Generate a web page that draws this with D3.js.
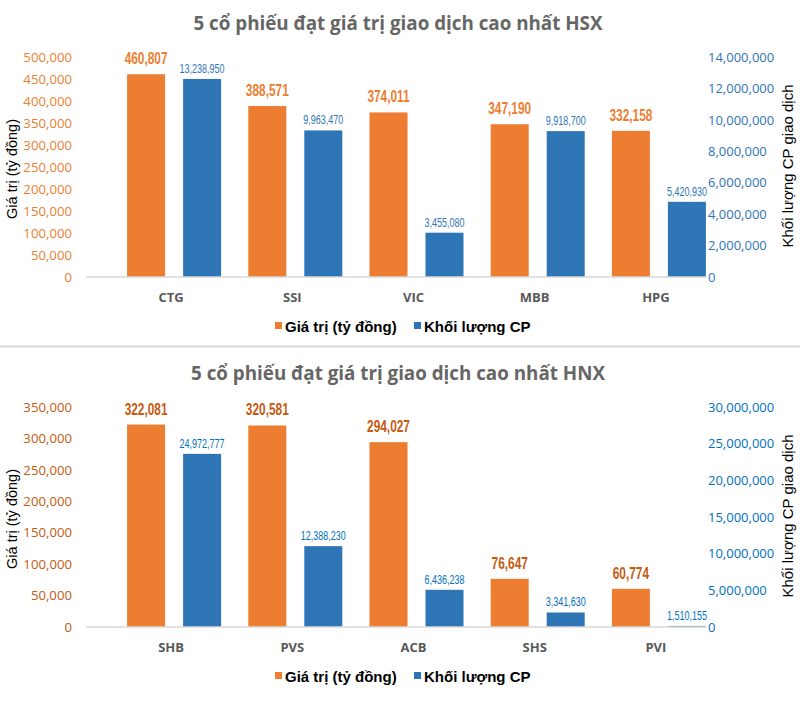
<!DOCTYPE html>
<html>
<head>
<meta charset="utf-8">
<script src="https://cdn.jsdelivr.net/npm/d3@7"></script>
<style>
  html, body { margin: 0; padding: 0; background: #fff; }
  svg { display: block; }
</style>
</head>
<body>
<svg id="chart" width="800" height="724"></svg>
<script>
// ---------- DATA ----------
const hsxTitle = "5 cổ phiếu đạt giá trị giao dịch cao nhất HSX";
const hsxStocks = ["CTG", "SSI", "VIC", "MBB", "HPG"];
const hsxValue = [460807, 388571, 374011, 347190, 332158];
const hsxVolume = [13238950, 9963470, 3455080, 9918700, 5420930];
const hsxLeftTicks = [0, 50000, 100000, 150000, 200000, 250000, 300000, 350000, 400000, 450000, 500000];
const hsxRightTicks = [0, 2000000, 4000000, 6000000, 8000000, 10000000, 12000000, 14000000];

const hnxTitle = "5 cổ phiếu đạt giá trị giao dịch cao nhất HNX";
const hnxStocks = ["SHB", "PVS", "ACB", "SHS", "PVI"];
const hnxValue = [322081, 320581, 294027, 76647, 60774];
const hnxVolume = [24972777, 12388230, 6436238, 3341630, 1510155];
const hnxLeftTicks = [0, 50000, 100000, 150000, 200000, 250000, 300000, 350000];
const hnxRightTicks = [0, 5000000, 10000000, 15000000, 20000000, 25000000, 30000000];

const seriesNames = ["Giá trị (tỷ đồng)", "Khối lượng CP"];
const leftAxisTitle = "Giá trị (tỷ đồng)";
const rightAxisTitle = "Khối lượng CP giao dịch";

// ---------- STYLE ----------
const ORANGE = "#ED7D31";
const BLUE = "#2E75B6";
const NARROW = 0.72;
const fmt = d3.format(",");
const svg = d3.select("#chart");

function drawChart(cfg) {
  const g = svg.append("g").attr("transform", `translate(0,${cfg.offsetY})`);
  const top = 57, base = 277;
  const secShift = 10;

  const yL = d3.scaleLinear().domain([0, d3.max(cfg.leftTicks)]).range([base, top]);
  const yR = d3.scaleLinear().domain([0, d3.max(cfg.rightTicks)]).range([base + secShift, top + secShift]);

  const x = d3.scaleBand().domain(cfg.stocks).range([113.5, 719.5])
    .paddingInner(0.2244).paddingOuter(0.1122);
  const xs = d3.scaleBand().domain(["value", "volume"]).range([0, x.bandwidth()])
    .paddingInner(18 / 56);

  // Title
  g.append("text")
    .attr("x", 398).attr("y", 30)
    .attr("text-anchor", "middle")
    .attr("font-family", "'Open Sans', sans-serif")
    .attr("font-weight", "bold")
    .attr("font-size", 18.8)
    .attr("fill", "#666666")
    .text(cfg.title);

  // Left axis
  const la = g.append("g").attr("transform", "translate(72,0)")
    .call(d3.axisLeft(yL).tickValues(cfg.leftTicks).tickSize(0).tickPadding(0).tickFormat(fmt));
  la.select(".domain").remove();
  la.selectAll("text")
    .attr("font-family", "'Open Sans', sans-serif")
    .attr("font-size", 13.2)
    .attr("fill", cfg.leftTickColor);

  // Right axis (labels drawn at the secondary scale shifted up)
  const ra = g.append("g").attr("transform", `translate(708,${-secShift})`)
    .call(d3.axisRight(yR).tickValues(cfg.rightTicks).tickSize(0).tickPadding(0).tickFormat(fmt));
  ra.select(".domain").remove();
  ra.selectAll("text")
    .attr("font-family", "'Open Sans', sans-serif")
    .attr("font-size", 13)
    .attr("fill", cfg.rightTickColor);

  // Axis titles
  g.append("text")
    .attr("transform", `translate(17,${(top + base) / 2 + 2}) rotate(-90)`)
    .attr("text-anchor", "middle")
    .attr("font-family", "'Liberation Sans', Arial, sans-serif")
    .attr("font-size", 14.5)
    .attr("fill", "#000")
    .text(leftAxisTitle);
  g.append("text")
    .attr("transform", `translate(793,${(top + base) / 2 - 1}) rotate(-90)`)
    .attr("text-anchor", "middle")
    .attr("font-family", "'Liberation Sans', Arial, sans-serif")
    .attr("font-size", 15)
    .attr("fill", "#000")
    .text(rightAxisTitle);

  // Bars
  const groups = g.selectAll(".grp").data(cfg.stocks.map((s, i) => ({
    stock: s, value: cfg.value[i], volume: cfg.volume[i]
  }))).enter().append("g")
    .attr("class", "grp")
    .attr("transform", d => `translate(${x(d.stock)},0)`);

  groups.append("rect")
    .attr("x", xs("value")).attr("width", xs.bandwidth())
    .attr("y", d => yL(d.value)).attr("height", d => base - yL(d.value))
    .attr("fill", ORANGE);
  groups.append("rect")
    .attr("x", xs("volume")).attr("width", xs.bandwidth())
    .attr("y", d => Math.min(yR(d.volume), base)).attr("height", d => Math.max(0, base - yR(d.volume)))
    .attr("fill", BLUE);

  // Data labels (narrow bold style)
  groups.append("text")
    .attr("transform", d => `translate(${xs("value") + xs.bandwidth() / 2},${yL(d.value) - 10}) scale(${NARROW},1)`)
    .attr("text-anchor", "middle")
    .attr("font-family", "'Liberation Sans', Arial, sans-serif")
    .attr("font-weight", "bold")
    .attr("font-size", 16.5)
    .attr("fill", cfg.valueLabelColor)
    .text(d => fmt(d.value));
  groups.append("text")
    .attr("transform", d => `translate(${xs("volume") + xs.bandwidth() / 2},${Math.min(yR(d.volume), base) - 6}) scale(${NARROW},1)`)
    .attr("text-anchor", "middle")
    .attr("font-family", "'Liberation Sans', Arial, sans-serif")
    .attr("font-size", 12.5)
    .attr("fill", cfg.volumeLabelColor)
    .text(d => fmt(d.volume));

  // Baseline
  g.append("line")
    .attr("x1", 86).attr("x2", 706)
    .attr("y1", base).attr("y2", base)
    .attr("stroke", "#d9d9d9").attr("stroke-width", 1.5);

  // Category labels
  g.selectAll(".cat").data(cfg.stocks).enter().append("text")
    .attr("class", "cat")
    .attr("x", d => x(d) + x.bandwidth() / 2 - 3)
    .attr("y", 302)
    .attr("text-anchor", "middle")
    .attr("font-family", "'Open Sans', sans-serif")
    .attr("font-weight", "bold")
    .attr("font-size", 13)
    .attr("fill", "#595959")
    .text(d => d);

  // Legend
  const legendX = [275, 414];
  const legendColors = [ORANGE, BLUE];
  seriesNames.forEach((name, i) => {
    g.append("rect")
      .attr("x", legendX[i]).attr("y", 322)
      .attr("width", 7).attr("height", 7)
      .attr("fill", legendColors[i]);
    g.append("text")
      .attr("x", legendX[i] + 10).attr("y", 332)
      .attr("font-family", "'Liberation Sans', Arial, sans-serif")
      .attr("font-weight", "bold")
      .attr("font-size", 15)
      .attr("fill", "#000")
      .text(name);
  });
}

drawChart({
  offsetY: 0, title: hsxTitle, stocks: hsxStocks, value: hsxValue, volume: hsxVolume,
  leftTicks: hsxLeftTicks, rightTicks: hsxRightTicks,
  leftTickColor: "#ED7D31", rightTickColor: "#2E75B6",
  valueLabelColor: "#ED7D31", volumeLabelColor: "#2E75B6"
});
drawChart({
  offsetY: 350, title: hnxTitle, stocks: hnxStocks, value: hnxValue, volume: hnxVolume,
  leftTicks: hnxLeftTicks, rightTicks: hnxRightTicks,
  leftTickColor: "#C55A11", rightTickColor: "#0070C0",
  valueLabelColor: "#C55A11", volumeLabelColor: "#0070C0"
});

// Separator between the two charts
svg.append("line")
  .attr("x1", 0).attr("x2", 800)
  .attr("y1", 346.5).attr("y2", 346.5)
  .attr("stroke", "#d9d9d9").attr("stroke-width", 2);
</script>
</body>
</html>
